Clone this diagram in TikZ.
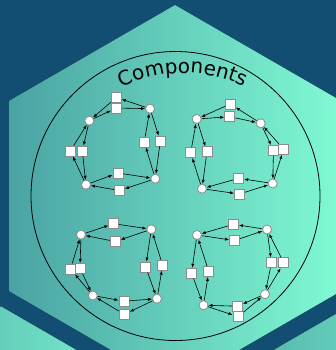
\documentclass[tikz,border=0pt]{standalone}
\usepackage{fontspec}
\newfontfamily\compfont{DejaVu Sans}
\usetikzlibrary{arrows.meta,decorations.text}
\definecolor{bgblue}{HTML}{124E72}
\definecolor{hexL}{HTML}{4AA3A3}
\definecolor{hexR}{HTML}{80FAD4}
\definecolor{rim}{HTML}{8C8C8C}
\tikzset{
  place/.style={circle, draw=rim, fill=white, minimum size=9pt, inner sep=0pt, line width=0.8pt},
  trans/.style={rectangle, draw=rim, fill=white, minimum size=10pt, inner sep=0pt, line width=0.9pt},
  arr/.style={-{Latex[length=4pt,width=3.2pt]}, line width=0.6pt, black},
  hexa/.style={left color=hexL, right color=hexR}
}
\begin{document}
\begin{tikzpicture}[x=1pt,y=-1pt]
\useasboundingbox (0,0) rectangle (336,350);
\clip (0,0) rectangle (336,350);
\fill[bgblue] (0,0) rectangle (336,350);
% neighbour hexagons
\fill[hexa] (1,306.4) -- (166.4,401.9) -- (166.4,592.9) -- (1,688.4) -- (-164.4,592.9) -- (-164.4,401.9) -- cycle;
\fill[hexa] (349,306.4) -- (514.4,401.9) -- (514.4,592.9) -- (349,688.4) -- (183.6,592.9) -- (183.6,401.9) -- cycle;
% main hexagon
\fill[hexa] (175,5) -- (340.4,100.5) -- (340.4,291.5) -- (175,387) -- (9.6,291.5) -- (9.6,100.5) -- cycle;
% big circle
\node[circle, draw=black, line width=0.8pt, minimum size=289pt, inner sep=0pt] (ring) at (175.5,196) {};
% title
\coordinate (tc) at (184,213);
\path[decorate, decoration={text along path, text align=center,
  text={|\compfont\fontsize{20}{24}\selectfont|Components}}]
  (tc) ++(135:140pt) arc[start angle=135, end angle=46, radius=140pt];
% ---------- top-left ----------
\node[place] (tlA) at (89.3,120.7) {};
\node[place] (tlB) at (150,108.7) {};
\node[place] (tlC) at (155.3,178.7) {};
\node[place] (tlD) at (86,184.7) {};
\node[trans] (tls1) at (116.3,97.5) {};
\node[trans] (tls2) at (116.3,108) {};
\node[trans] (tls3) at (144.3,142) {};
\node[trans] (tls4) at (160.3,141) {};
\node[trans] (tls5) at (118,173) {};
\node[trans] (tls6) at (119.5,190.5) {};
\node[trans] (tls7) at (70.3,151) {};
\node[trans] (tls8) at (82.3,151) {};
\foreach \a/\b in {B/s1,s1/A,A/s2,s2/B,B/s4,s4/C,C/s3,s3/B,D/s5,s5/C,C/s6,s6/D,A/s8,s8/D,D/s7,s7/A}
  \draw[arr] (tl\a) -- (tl\b);
% ---------- top-right ----------
\node[place] (trA) at (196.7,119) {};
\node[place] (trB) at (260.7,123.3) {};
\node[place] (trC) at (272.7,183.5) {};
\node[place] (trD) at (202,188.7) {};
\node[trans] (trs1) at (230.3,104) {};
\node[trans] (trs2) at (229.7,116.7) {};
\node[trans] (trs3) at (273.5,150.3) {};
\node[trans] (trs4) at (283.7,149.3) {};
\node[trans] (trs5) at (238.7,178.3) {};
\node[trans] (trs6) at (239.5,194) {};
\node[trans] (trs7) at (190.7,152.7) {};
\node[trans] (trs8) at (207,151.8) {};
\foreach \a/\b in {B/s1,s1/A,A/s2,s2/B,B/s3,s3/C,C/s4,s4/B,C/s5,s5/D,D/s6,s6/C,A/s8,s8/D,D/s7,s7/A}
  \draw[arr] (tr\a) -- (tr\b);
% ---------- bottom-left ----------
\node[place] (blA) at (81,234.7) {};
\node[place] (blB) at (151.3,229.3) {};
\node[place] (blC) at (157,298.7) {};
\node[place] (blD) at (92.8,295.5) {};
\node[trans] (bls1) at (113.7,223.7) {};
\node[trans] (bls2) at (115.3,241.5) {};
\node[trans] (bls3) at (145.7,267) {};
\node[trans] (bls4) at (162.7,265.2) {};
\node[trans] (bls5) at (124,301.2) {};
\node[trans] (bls6) at (124.3,314.3) {};
\node[trans] (bls7) at (70.5,269) {};
\node[trans] (bls8) at (80,268.3) {};
\foreach \a/\b in {A/s1,s1/B,B/s2,s2/A,B/s3,s3/C,C/s4,s4/B,D/s5,s5/C,C/s6,s6/D,A/s8,s8/D,D/s7,s7/A}
  \draw[arr] (bl\a) -- (bl\b);
% ---------- bottom-right ----------
\node[place] (brA) at (197,235) {};
\node[place] (brB) at (267,229.5) {};
\node[place] (brC) at (265,294.2) {};
\node[place] (brD) at (203.5,305.2) {};
\node[trans] (brs1) at (233.5,224.3) {};
\node[trans] (brs2) at (234.5,240.5) {};
\node[trans] (brs3) at (271.5,262.8) {};
\node[trans] (brs4) at (283.8,262.8) {};
\node[trans] (brs5) at (237.5,306.2) {};
\node[trans] (brs6) at (238,316.7) {};
\node[trans] (brs7) at (191.5,273.2) {};
\node[trans] (brs8) at (208.8,271.5) {};
\foreach \a/\b in {B/s1,s1/A,A/s2,s2/B,B/s3,s3/C,C/s4,s4/B,C/s5,s5/D,D/s6,s6/C,A/s7,s7/D,D/s8,s8/A}
  \draw[arr] (br\a) -- (br\b);
\end{tikzpicture}
\end{document}
